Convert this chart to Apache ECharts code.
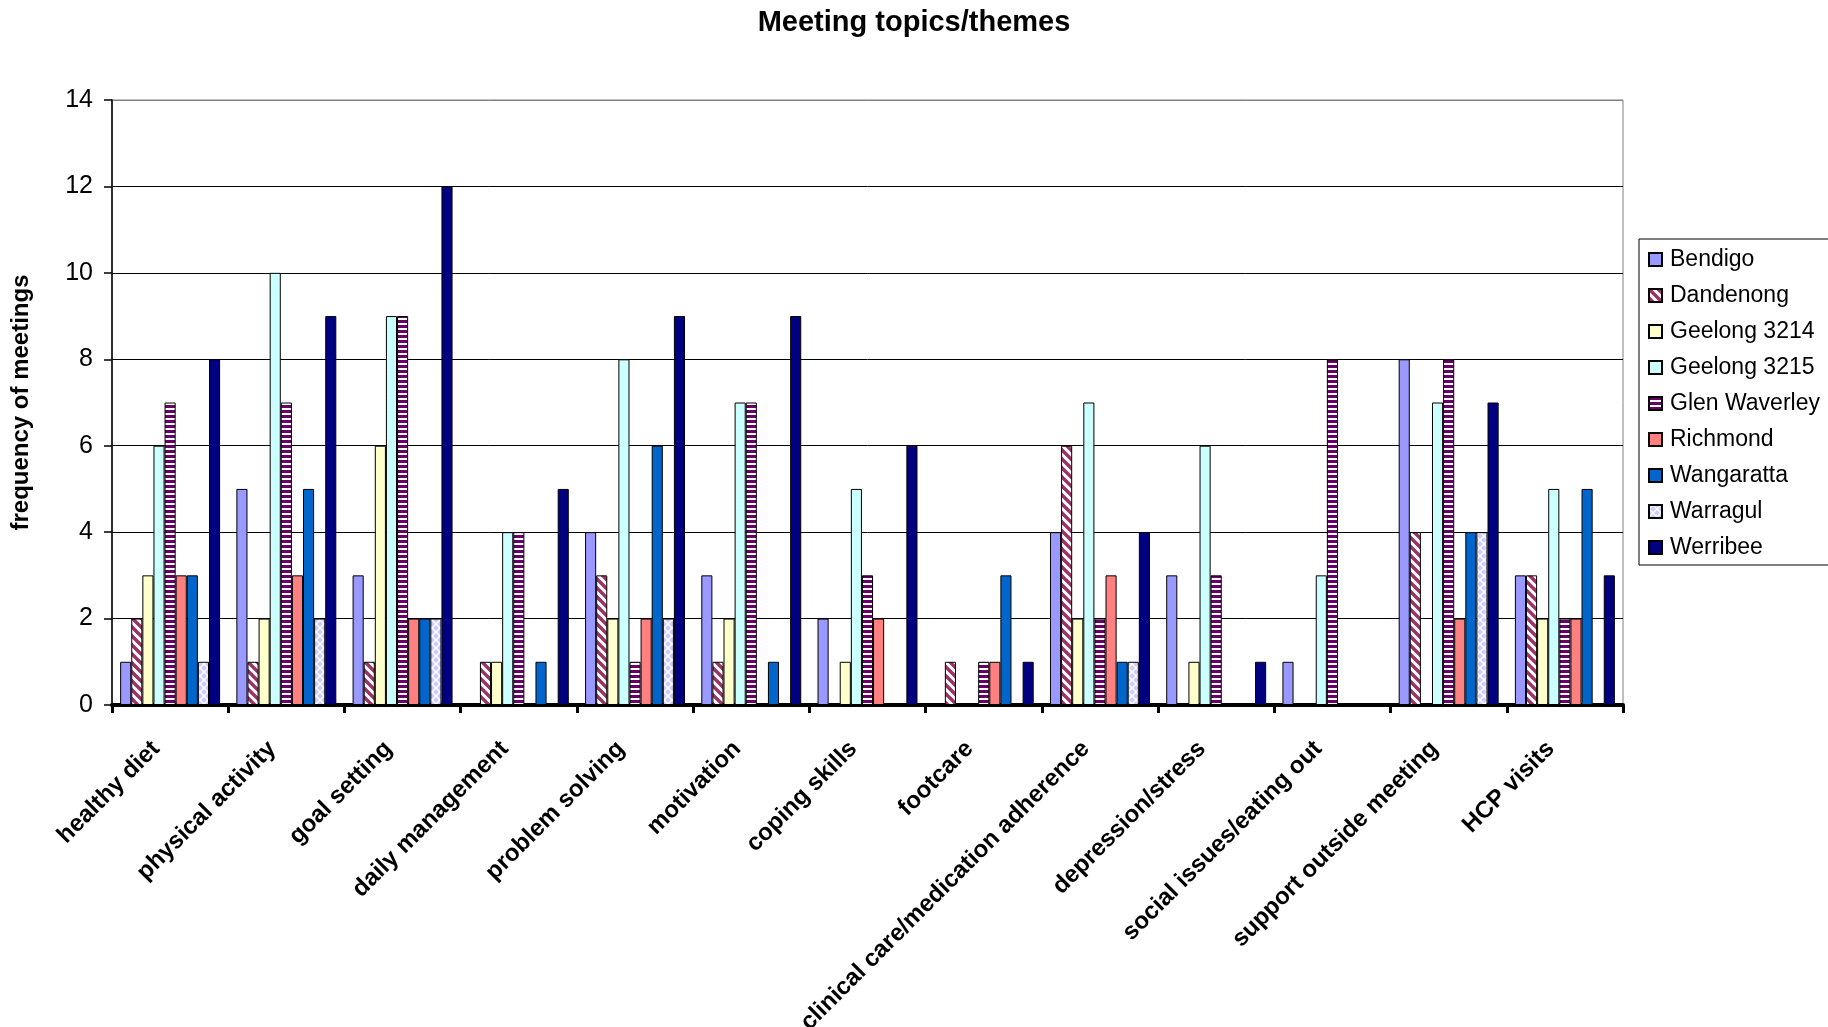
<!DOCTYPE html>
<html>
<head>
<meta charset="utf-8">
<title>Meeting topics/themes</title>
<script src="https://cdn.jsdelivr.net/npm/echarts@6/dist/echarts.min.js"></script>
<style>
  html, body { margin: 0; padding: 0; background: #ffffff; }
  #chart { width: 1828px; height: 1027px; }
</style>
</head>
<body>
<div id="chart"></div>
<script>
// Topics discussed at meetings
const categories = [
  'healthy diet', 'physical activity', 'goal setting', 'daily management',
  'problem solving', 'motivation', 'coping skills', 'footcare',
  'clinical care/medication adherence', 'depression/stress',
  'social issues/eating out', 'support outside meeting', 'HCP visits'
];

// Number of meetings per topic, one array per site
const bendigo      = [1, 5, 3, 0, 4, 3, 2, 0, 4, 3, 1, 8, 3];
const dandenong    = [2, 1, 1, 1, 3, 1, 0, 1, 6, 0, 0, 4, 3];
const geelong3214  = [3, 2, 6, 1, 2, 2, 1, 0, 2, 1, 0, 0, 2];
const geelong3215  = [6, 10, 9, 4, 8, 7, 5, 0, 7, 6, 3, 7, 5];
const glenWaverley = [7, 7, 9, 4, 1, 7, 3, 1, 2, 3, 8, 8, 2];
const richmond     = [3, 3, 2, 0, 2, 0, 2, 1, 3, 0, 0, 2, 2];
const wangaratta   = [3, 5, 2, 1, 6, 1, 0, 3, 1, 0, 0, 4, 5];
const warragul     = [1, 2, 2, 0, 2, 0, 0, 0, 1, 0, 0, 4, 0];
const werribee     = [8, 9, 12, 5, 9, 9, 6, 1, 4, 1, 0, 7, 3];

const siteNames = ['Bendigo', 'Dandenong', 'Geelong 3214', 'Geelong 3215',
  'Glen Waverley', 'Richmond', 'Wangaratta', 'Warragul', 'Werribee'];
const siteValues = [bendigo, dandenong, geelong3214, geelong3215,
  glenWaverley, richmond, wangaratta, warragul, werribee];

// Fill patterns
function makeTile(size, draw) {
  const c = document.createElement('canvas');
  c.width = size; c.height = size;
  const ctx = c.getContext('2d');
  ctx.fillStyle = '#ffffff';
  ctx.fillRect(0, 0, size, size);
  draw(ctx, size);
  return { image: c, repeat: 'repeat' };
}

// diagonal "\" stripes
const diagStripes = makeTile(9, function (ctx, s) {
  ctx.strokeStyle = '#993366';
  ctx.lineWidth = 3.4;
  ctx.beginPath();
  for (let k = -1; k <= 1; k++) {
    ctx.moveTo(k * s - 2, -2);
    ctx.lineTo(k * s + s + 2, s + 2);
  }
  ctx.stroke();
});

// horizontal stripes
const horizStripes = makeTile(5, function (ctx, s) {
  ctx.fillStyle = '#660066';
  ctx.fillRect(0, 0, s, 3);
});

// small diamonds
const diamonds = makeTile(8, function (ctx, s) {
  ctx.fillStyle = '#ccccff';
  function diamond(cx, cy, r) {
    ctx.beginPath();
    ctx.moveTo(cx, cy - r);
    ctx.lineTo(cx + r, cy);
    ctx.lineTo(cx, cy + r);
    ctx.lineTo(cx - r, cy);
    ctx.closePath();
    ctx.fill();
  }
  diamond(4, 4, 3);
  diamond(0, 0, 3); diamond(8, 0, 3); diamond(0, 8, 3); diamond(8, 8, 3);
});

const fills = ['#9999ff', diagStripes, '#ffffcc', '#ccffff', horizStripes,
  '#ff8080', '#0066cc', diamonds, '#000080'];

const FONT = '"Liberation Sans", Arial, sans-serif';

const chart = echarts.init(document.getElementById('chart'), null, { renderer: 'canvas' });

const series = siteNames.map(function (name, i) {
  return {
    name: name,
    type: 'bar',
    data: siteValues[i],
    barGap: '0%',
    barCategoryGap: '14%',
    itemStyle: {
      color: fills[i],
      borderColor: '#000000',
      borderWidth: 1
    }
  };
});

chart.setOption({
  animation: false,
  backgroundColor: '#ffffff',
  title: {
    text: 'Meeting topics/themes',
    left: 'center',
    top: 3,
    textStyle: { fontFamily: FONT, fontSize: 29, fontWeight: 'bold', color: '#000' }
  },
  legend: {
    orient: 'vertical',
    left: 1639,
    top: 239,
    padding: [9, 60, 6, 9],
    itemWidth: 13,
    itemHeight: 13,
    itemGap: 13,
    icon: 'rect',
    borderColor: '#000000',
    borderWidth: 1,
    backgroundColor: '#ffffff',
    textStyle: { fontFamily: FONT, fontSize: 23, color: '#000', lineHeight: 23, padding: [0, 0, 0, 3] },
    data: siteNames
  },
  grid: {
    left: 112,
    right: 205,
    top: 100,
    bottom: 322,
    outerBoundsMode: 'none',
    containLabel: false,
    show: true,
    borderColor: '#808080',
    borderWidth: 1,
    backgroundColor: 'transparent'
  },
  xAxis: {
    type: 'category',
    data: categories,
    axisLine: { lineStyle: { color: '#000', width: 4 } },
    axisTick: { show: true, interval: 0, length: 8, lineStyle: { color: '#000', width: 3 } },
    axisLabel: {
      interval: 0,
      rotate: 45,
      margin: 26,
      padding: [0, 20, 0, 0],
      fontFamily: FONT,
      fontSize: 24,
      fontWeight: 'bold',
      color: '#000'
    }
  },
  yAxis: {
    type: 'value',
    min: 0,
    max: 14,
    interval: 2,
    name: 'frequency of meetings',
    nameLocation: 'middle',
    nameRotate: 90,
    nameGap: 79,
    nameTextStyle: { fontFamily: FONT, fontSize: 24, fontWeight: 'bold', color: '#000' },
    axisLine: { show: true, lineStyle: { color: '#000', width: 1.5 } },
    axisTick: { show: true, length: 8, lineStyle: { color: '#000', width: 1.5 } },
    axisLabel: { margin: 19, fontFamily: FONT, fontSize: 25, color: '#000' },
    splitLine: {
      show: true,
      lineStyle: {
        color: ['#000', '#000', '#000', '#000', '#000', '#000', '#000', '#808080'],
        width: 1
      }
    }
  },
  series: series
});
</script>
</body>
</html>
